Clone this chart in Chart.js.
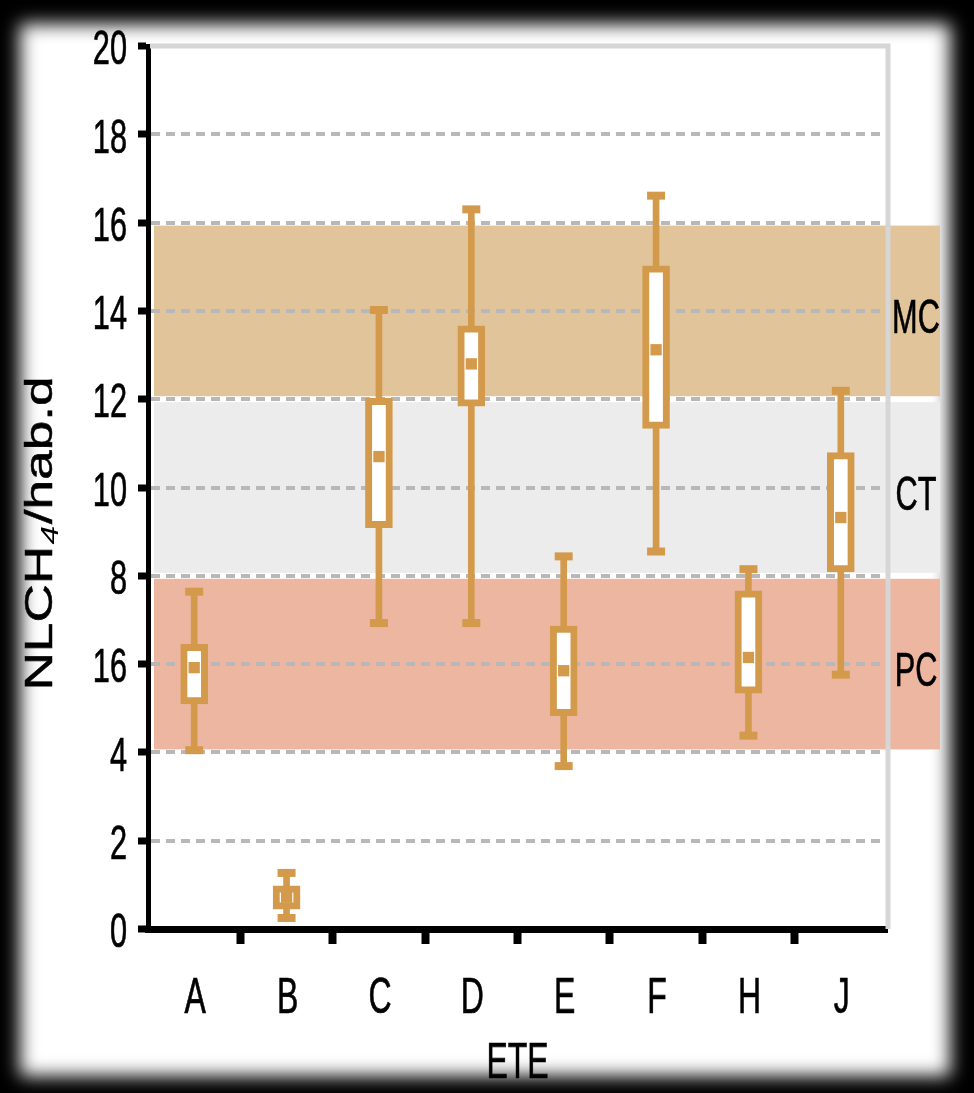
<!DOCTYPE html>
<html>
<head>
<meta charset="utf-8">
<script src="https://cdn.jsdelivr.net/npm/chart.js@4.4.1/dist/chart.umd.min.js"></script>
<style>
  html, body { margin: 0; padding: 0; background: #000; }
  #wrap  { position: relative; width: 974px; height: 1093px; overflow: hidden; background: #000; }
  #panel { position: absolute; left: 20px; top: 24px; width: 930px; height: 1052px; background: #fff; filter: blur(9px); }
  #chart { position: absolute; left: 0; top: 0; }
</style>
</head>
<body>
<div id="wrap">
  <div id="panel"></div>
  <canvas id="chart" width="974" height="1093"></canvas>
</div>
<script>
// stations (ETE) and box plot values
const stations    = ['A', 'B', 'C', 'D', 'E', 'F', 'H', 'J'];
const whiskerLow  = [4.05, 0.25, 6.93, 6.93, 3.69, 8.55, 4.38, 5.76];
const boxLow      = [5.10, 0.45, 9.09, 11.84, 4.83, 11.34, 5.34, 8.09];
const median      = [5.92, 0.72, 10.70, 12.80, 5.85, 13.12, 6.15, 9.32];
const boxHigh     = [6.45, 0.98, 12.02, 13.66, 6.86, 15.02, 7.66, 10.79];
const whiskerHigh = [7.64, 1.27, 14.02, 16.30, 8.44, 16.61, 8.15, 12.19];

// y tick labels as printed in the original (the 6 reads "16" there)
const yTickLabels = ['0', '2', '4', '16', '8', '10', '12', '14', '16', '18', '20'];

// reference ranges behind the boxes
const bandNames = ['PC', 'CT', 'MC'];
const bandLow   = [4, 8, 12];
const bandHigh  = [8, 12, 16];
const bandColors = ['#ecb6a0', '#ececec', '#e2c49a'];

const boxColor = '#d49a4b';
const labelFont = '"Liberation Sans", Arial, sans-serif';
const squeeze = 0.64;   // the original uses a condensed face

// draw condensed text, y = visual centre of the capitals
function narrowText(ctx, text, x, y, size, align) {
  ctx.save();
  ctx.font = size + 'px ' + labelFont;
  ctx.translate(x, y + size * 0.36);
  ctx.scale(squeeze, 1);
  ctx.textAlign = align;
  ctx.textBaseline = 'alphabetic';
  ctx.fillStyle = '#000';
  ctx.strokeStyle = '#000';
  ctx.lineWidth = 0.7;
  ctx.fillText(text, 0, 0);
  ctx.strokeText(text, 0, 0);
  ctx.restore();
}

const decor = {
  id: 'decor',
  beforeDraw(chart) {
    const { ctx, chartArea } = chart;
    const y = chart.scales.y;
    ctx.save();
    bandNames.forEach((name, i) => {
      const top = y.getPixelForValue(bandHigh[i]) + 3;
      const bot = y.getPixelForValue(bandLow[i]) - 3;
      ctx.fillStyle = bandColors[i];
      ctx.fillRect(chartArea.left + 6, top, chartArea.right + 53 - chartArea.left - 6, bot - top);
    });
    ctx.restore();
  },
  beforeDatasetsDraw(chart) {
    const { ctx, chartArea } = chart;
    const y = chart.scales.y;
    ctx.save();
    ctx.strokeStyle = '#d6d6d6';
    ctx.lineWidth = 5;
    ctx.beginPath();
    ctx.moveTo(chartArea.left + 2, y.getPixelForValue(20));
    ctx.lineTo(chartArea.right + 1, y.getPixelForValue(20));
    ctx.lineTo(chartArea.right + 1, y.getPixelForValue(0));
    ctx.stroke();
    ctx.restore();

    bandNames.forEach((name, i) => {
      const mid = y.getPixelForValue((bandLow[i] + bandHigh[i]) / 2) + 5;
      narrowText(ctx, name, chartArea.right + 29, mid, 48, 'center');
    });
  },
  afterDraw(chart) {
    const { ctx, chartArea } = chart;
    const x = chart.scales.x;
    const y = chart.scales.y;

    // tick labels
    y.ticks.forEach((t, i) => {
      narrowText(ctx, yTickLabels[i], chartArea.left - 21, y.getPixelForTick(i) + 1, 48, 'right');
    });
    x.ticks.forEach((t, i) => {
      narrowText(ctx, stations[i], x.getPixelForTick(i) + 1, chartArea.bottom + 66, 50, 'center');
    });
    // x title
    narrowText(ctx, 'ETE', (chartArea.left + chartArea.right) / 2, chartArea.bottom + 131, 50, 'center');

    // rotated y title with subscript
    const cx = chartArea.left - 96;
    const cy = (chartArea.top + chartArea.bottom) / 2 + 46;
    const big = '38px "Liberation Sans", Arial, sans-serif';
    const small = 'italic 24px "Liberation Sans", Arial, sans-serif';
    ctx.save();
    ctx.font = big;
    const w1 = ctx.measureText('NLCH').width;
    const w3 = ctx.measureText('/hab.d').width;
    ctx.font = small;
    const w2 = ctx.measureText('4').width + 2;
    const total = w1 + w2 + w3;
    ctx.translate(cx, cy);
    ctx.rotate(-Math.PI / 2);
    ctx.scale(1.4, 1);
    ctx.fillStyle = '#000';
    ctx.strokeStyle = '#000';
    ctx.lineWidth = 0.5;
    ctx.textBaseline = 'alphabetic';
    ctx.textAlign = 'left';
    let px = -total / 2;
    ctx.font = big;
    ctx.fillText('NLCH', px, 0);
    ctx.strokeText('NLCH', px, 0);
    px += w1;
    ctx.font = small;
    ctx.fillText('4', px + 1, 6);
    px += w2;
    ctx.font = big;
    ctx.fillText('/hab.d', px, 0);
    ctx.strokeText('/hab.d', px, 0);
    ctx.restore();
  }
};

new Chart(document.getElementById('chart'), {
  type: 'bar',
  data: {
    labels: stations,
    datasets: [
      {
        label: 'whisker',
        data: stations.map((s, i) => [whiskerLow[i], whiskerHigh[i]]),
        backgroundColor: boxColor,
        barThickness: 6,
        grouped: false,
        order: 4
      },
      {
        label: 'box',
        data: stations.map((s, i) => [boxLow[i], boxHigh[i]]),
        backgroundColor: '#ffffff',
        borderColor: boxColor,
        borderWidth: 7,
        borderSkipped: false,
        barThickness: 27,
        grouped: false,
        order: 3
      },
      {
        type: 'line',
        label: 'max',
        data: whiskerHigh,
        showLine: false,
        pointStyle: 'line',
        pointRadius: 9,
        pointBorderWidth: 8,
        pointBorderColor: boxColor,
        order: 2
      },
      {
        type: 'line',
        label: 'min',
        data: whiskerLow,
        showLine: false,
        pointStyle: 'line',
        pointRadius: 9,
        pointBorderWidth: 8,
        pointBorderColor: boxColor,
        order: 2
      },
      {
        type: 'line',
        label: 'median',
        data: median,
        showLine: false,
        pointStyle: 'rect',
        pointRadius: 8,
        pointBorderWidth: 0,
        pointBackgroundColor: boxColor,
        order: 1
      }
    ]
  },
  options: {
    responsive: false,
    animation: false,
    layout: { padding: { left: 0, right: 87, top: 46, bottom: 0 } },
    plugins: { legend: { display: false }, tooltip: { enabled: false } },
    scales: {
      x: {
        offset: true,
        grid: {
          display: true,
          offset: true,
          drawOnChartArea: false,
          tickLength: 15,
          tickWidth: 8,
          tickColor: c => (c.type === 'tick' && c.index > 0) ? '#000' : 'rgba(0,0,0,0)'
        },
        border: { display: true, color: '#000', width: 7 },
        ticks: { display: false },
        afterFit: s => { s.height = 1093 - 929; }
      },
      y: {
        min: 0,
        max: 20,
        ticks: { stepSize: 2, display: false },
        grid: {
          color: c => (!c.tick || c.tick.value === 0 || c.tick.value === 20) ? 'rgba(0,0,0,0)' : '#b8b8b8',
          lineWidth: 4,
          tickColor: '#000',
          tickWidth: 7,
          tickLength: 10
        },
        border: { display: true, color: '#000', width: 5, dash: [9, 6] },
        afterFit: s => { s.width = 148; }
      }
    }
  },
  plugins: [decor]
});
</script>
</body>
</html>
